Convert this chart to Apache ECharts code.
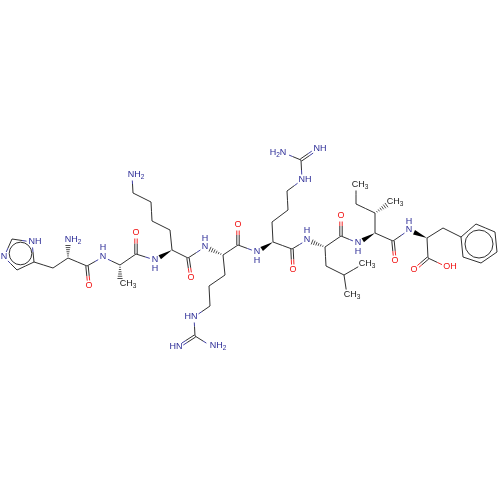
<!DOCTYPE html>
<html><head><meta charset="utf-8">
<style>html,body{margin:0;padding:0;background:#fff}#c{width:500px;height:500px}</style>
<script src="https://cdn.jsdelivr.net/npm/echarts@6/dist/echarts.min.js"></script>
</head><body><div id="c"></div>
<script>
// atom: [id, x, y, element, hasLabel]
const atoms = [
 ['n1',4,257,'N',1],['c2',12,239,'C',0],['n3',32,242,'N',1],['c4',34,262,'C',0],['c5',17,270,'C',0],
 ['hb',53,268,'C',0],['ha',68,258,'C',0],['hn',68,240,'N',1],['hc',87,266,'C',0],['ho',89,286,'O',1],
 ['an',103,257,'N',1],['aa',120,265,'C',0],['ab',120,284,'C',1],['ac',136,254,'C',0],['ao',136,233,'O',1],
 ['ln',155,260,'N',1],['la',172,250,'C',0],['l1',170,230,'C',0],['l2',152,221,'C',0],['l3',151,202,'C',0],['l4',133,193,'C',0],['l5',132,175,'N',1],
 ['lc',188,258,'C',0],['lo',191,278,'O',1],
 ['rn',205,247,'N',1],['ra',223,255,'C',0],['r1',225,275,'C',0],['r2',209,286,'C',0],['r3',210,306,'C',0],['r4',194,317,'N',1],['r5',195,336,'C',0],['r6',178,347,'N',1],['r7',211,346,'N',1],
 ['rc',238,245,'C',0],['ro',238,225,'O',1],
 ['sn',257,252,'N',1],['sa',273,242,'C',0],['s1',272,222,'C',0],['s2',288,210,'C',0],['s3',287,191,'C',0],['s4',302,180,'N',1],['s5',301,160,'C',0],['s6',317,149,'N',1],['s7',284,153,'N',1],
 ['sc',292,249,'C',0],['so',293,270,'O',1],
 ['un',307,240,'N',1],['ua',325,247,'C',0],['u1',326,266,'C',0],['u2',344,275,'C',0],['u3',363,264,'C',1],['u4',347,295,'C',1],
 ['uc',341,236,'C',0],['uo',341,216,'O',1],
 ['in',358,243,'N',1],['ia',375,233,'C',0],['ib',375,213,'C',0],['i1',356,204,'C',0],['i2',356,185,'C',1],['i3',391,202,'C',1],
 ['ic',393,241,'C',0],['io',395,261,'O',1],
 ['fn',409,230,'N',1],['fa',427,238,'C',0],['fb',443,228,'C',0],
 ['f1',461,237,'C',0],['f2',476,224,'C',0],['f3',495,232,'C',0],['f4',497,252,'C',0],['f5',481,263,'C',0],['f6',463,257,'C',0],
 ['fc',428,258,'C',0],['fo',414,270,'O',1],['fh',447,267,'O',1]
];
// bond: [from, to, kind]  s single, d double, w wedge, h hash
const bonds = [
 ['n1','c2','s'],['c2','n3','s'],['n3','c4','s'],['c4','c5','s'],['c5','n1','s'],
 ['c4','hb','s'],['hb','ha','s'],['ha','hn','h'],['ha','hc','s'],['hc','ho','d'],['hc','an','s'],
 ['an','aa','s'],['aa','ab','h'],['aa','ac','s'],['ac','ao','d'],['ac','ln','s'],
 ['la','ln','w'],['la','l1','s'],['l1','l2','s'],['l2','l3','s'],['l3','l4','s'],['l4','l5','s'],['la','lc','s'],['lc','lo','d'],['lc','rn','s'],
 ['ra','rn','h'],['ra','r1','s'],['r1','r2','s'],['r2','r3','s'],['r3','r4','s'],['r4','r5','s'],['r5','r6','d'],['r5','r7','s'],['ra','rc','s'],['rc','ro','d'],['rc','sn','s'],
 ['sa','sn','w'],['sa','s1','s'],['s1','s2','s'],['s2','s3','s'],['s3','s4','s'],['s4','s5','s'],['s5','s6','d'],['s5','s7','s'],['sa','sc','s'],['sc','so','d'],['sc','un','s'],
 ['ua','un','h'],['ua','u1','s'],['u1','u2','s'],['u2','u3','s'],['u2','u4','s'],['ua','uc','s'],['uc','uo','d'],['uc','in','s'],
 ['ia','in','w'],['ia','ib','s'],['ib','i1','s'],['i1','i2','s'],['ib','i3','h'],['ia','ic','s'],['ic','io','d'],['ic','fn','s'],
 ['fa','fn','w'],['fa','fb','s'],['fb','f1','s'],['f1','f2','s'],['f2','f3','s'],['f3','f4','s'],['f4','f5','s'],['f5','f6','s'],['f6','f1','s'],
 ['fa','fc','s'],['fc','fo','d'],['fc','fh','s']
];
// aromatic rings: [cx, cy, r]
const rings = [[20.5,253.5,11.3],[479,244,14]];
// atom labels: [text, x, y, element]
const labels = [
 ['N',4,257,'N'],['NH',35,242,'N'],['NH{s|2}',73,240,'N'],['O',89,286,'O'],
 ['N',103,257,'N'],['H',103,248,'N'],['CH{s|3}',128,284,'C'],['O',136,233,'O'],
 ['N',155,260,'N'],['H',155,269,'N'],['NH{s|2}',136,175,'N'],['O',191,278,'O'],
 ['N',205,247,'N'],['H',205,239,'N'],['HN',191,317,'N'],['HN',176,347,'N'],['NH{s|2}',218,346,'N'],['O',238,225,'O'],
 ['N',257,252,'N'],['H',257,261,'N'],['O',293,270,'O'],['NH',305,180,'N'],['NH',320,149,'N'],['H{s|2}N',278,153,'N'],
 ['N',307,240,'N'],['H',307,231,'N'],['O',341,216,'O'],['CH{s|3}',367,264,'C'],['CH{s|3}',352,295,'C'],
 ['N',358,243,'N'],['H',358,252,'N'],['CH{s|3}',360,185,'C'],['CH{s|3}',395,202,'C'],['O',395,261,'O'],
 ['N',409,230,'N'],['H',409,222,'N'],['O',414,270,'O'],['OH',450,267,'O']
];
const palette = {C:'#1a1a1a',N:'#2a2a96',O:'#f01010'};

const byId = Object.fromEntries(atoms.map(a=>[a[0],a]));
const bondData = bonds.map((b,i)=>{const A=byId[b[0]],B=byId[b[1]];return [A[1],A[2],B[1],B[2],i];});
function renderBond(params,api){
  const b=bonds[api.value(4)],A=byId[b[0]],B=byId[b[1]];
  const p=api.coord([api.value(0),api.value(1)]),q=api.coord([api.value(2),api.value(3)]);
  let dx=q[0]-p[0],dy=q[1]-p[1];const L=Math.hypot(dx,dy);dx/=L;dy/=L;
  const ta=A[4]?5.5:0,tb=B[4]?5.5:0;
  const s=[p[0]+dx*ta,p[1]+dy*ta],e=[q[0]-dx*tb,q[1]-dy*tb];
  const nx=-dy,ny=dx,children=[];
  const seg=(a,c,col,w)=>children.push({type:'line',shape:{x1:a[0],y1:a[1],x2:c[0],y2:c[1]},style:{stroke:col,lineWidth:w||0.9,fill:null}});
  const kind=b[2];
  const mid=[(p[0]+q[0])/2,(p[1]+q[1])/2];
  const two=(off)=>{
    const o=[nx*off,ny*off];
    seg([s[0]+o[0],s[1]+o[1]],[mid[0]+o[0],mid[1]+o[1]],palette[A[3]]);
    seg([mid[0]+o[0],mid[1]+o[1]],[e[0]+o[0],e[1]+o[1]],palette[B[3]]);
  };
  if(kind==='s') two(0);
  else if(kind==='d'){two(-1.2);two(1.2);}
  else if(kind==='w'){
    children.push({type:'polygon',shape:{points:[p,[e[0]+nx*2.4,e[1]+ny*2.4],[e[0]-nx*2.4,e[1]-ny*2.4]]},style:{fill:'#000'}});
  } else {
    const n=6,len=Math.hypot(e[0]-p[0],e[1]-p[1]);
    for(let i=1;i<=n;i++){
      const t=i/n*len,h=0.4+2.2*i/n,c=[p[0]+dx*t,p[1]+dy*t];
      seg([c[0]+nx*h,c[1]+ny*h],[c[0]-nx*h,c[1]-ny*h],'#222',0.8);
    }
  }
  return {type:'group',children};
}
function renderRing(params,api){
  const c=api.coord([api.value(0),api.value(1)]),r=api.size([api.value(2),0])[0];
  return {type:'circle',shape:{cx:c[0],cy:c[1],r},style:{fill:null,stroke:'#1a1a1a',lineWidth:0.9}};
}
const chart=echarts.init(document.getElementById('c'),null,{renderer:'canvas'});
chart.setOption({
  animation:false,backgroundColor:'#fff',
  grid:{left:0,right:0,top:0,bottom:0},
  xAxis:{type:'value',min:0,max:500,show:false},
  yAxis:{type:'value',min:0,max:500,inverse:true,show:false},
  series:[
   {type:'custom',renderItem:renderBond,data:bondData,clip:false,silent:true,encode:{x:[0,2],y:[1,3]}},
   {type:'custom',renderItem:renderRing,data:rings,clip:false,silent:true,encode:{x:0,y:1}},
   {type:'scatter',symbolSize:0,silent:true,clip:false,itemStyle:{opacity:1},
    data:labels.map(l=>({value:[l[1],l[2]],
      label:{show:true,position:'inside',align:'center',verticalAlign:'middle',
        formatter:l[0].replace(/^([^{]+)/,'{m|$1}').replace(/\}(N)$/,'}{m|$1}'),
        rich:{m:{fontFamily:'Liberation Sans',fontSize:9,color:palette[l[3]]},
              s:{fontFamily:'Liberation Sans',fontSize:6.5,color:palette[l[3]],verticalAlign:'bottom',padding:[4,0,0,0]}}}}))}
  ]
});
</script></body></html>
